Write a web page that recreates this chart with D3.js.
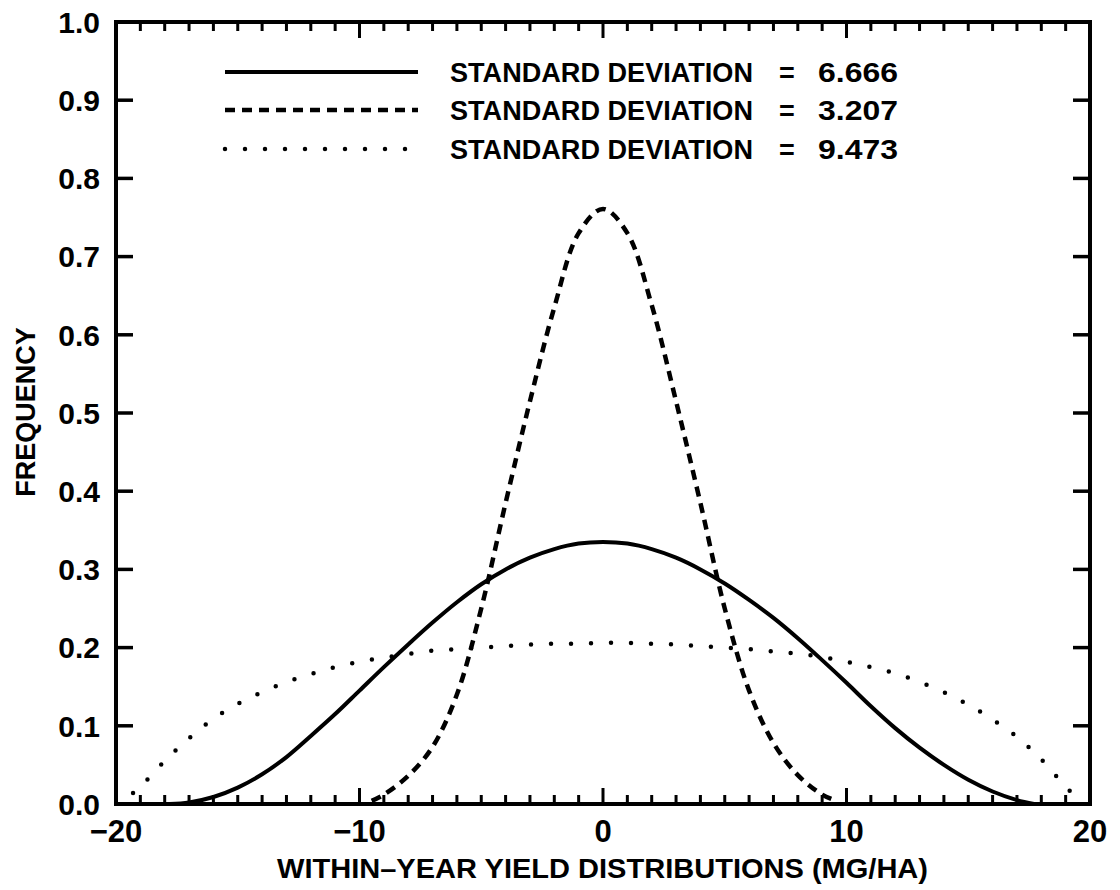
<!DOCTYPE html>
<html>
<head>
<meta charset="utf-8">
<script src="https://cdn.jsdelivr.net/npm/d3@7"></script>
<style>
  body { margin: 0; background: #fff; }
  text { font-family: "Liberation Sans", Arial, sans-serif; font-weight: bold; fill: #000; }
</style>
</head>
<body>
<div id="vis"></div>
<script>
// values (x in MG/HA, y = frequency)
var sd6666X = [-17.8, -17, -16, -15, -14, -13, -12, -11, -10, -9, -8, -7, -6, -5, -4, -3, -2, -1, 0,
               1, 2, 3, 4, 5, 6, 7, 8, 9, 10, 11, 12, 13, 14, 15, 16, 17, 17.7];
var sd6666Y = [0, 0.002, 0.009, 0.021, 0.038, 0.06, 0.087, 0.115, 0.145, 0.175, 0.204, 0.232, 0.258, 0.281, 0.3, 0.315, 0.326, 0.333, 0.335,
               0.333, 0.326, 0.315, 0.3, 0.282, 0.261, 0.238, 0.212, 0.184, 0.155, 0.125, 0.097, 0.072, 0.05, 0.031, 0.016, 0.005, 0];

var sd3207X = [-9.5, -9, -8, -7, -6, -5, -4, -3, -2, -1, 0, 1, 2, 3, 4, 5, 6, 7, 8, 9, 9.5];
var sd3207Y = [0.004, 0.012, 0.036, 0.073, 0.14, 0.25, 0.385, 0.515, 0.635, 0.73, 0.761,
               0.73, 0.638, 0.515, 0.385, 0.25, 0.145, 0.078, 0.037, 0.012, 0.005];

var sd9473X = [-19.3, -19, -18, -17, -16, -15, -14, -13, -12, -11, -10, -9, -8, -7, -6, -5, -4, -3, -2, -1, 0,
               1, 2, 3, 4, 5, 6, 7, 8, 9, 10, 11, 12, 13, 14, 15, 16, 17, 18, 19, 19.2];
var sd9473Y = [0.014, 0.022, 0.055, 0.084, 0.109, 0.128, 0.143, 0.156, 0.166, 0.175, 0.182, 0.187, 0.192, 0.196, 0.198, 0.2, 0.202, 0.204, 0.205, 0.205, 0.206,
               0.206, 0.205, 0.204, 0.202, 0.2, 0.198, 0.195, 0.192, 0.188, 0.182, 0.175, 0.167, 0.156, 0.143, 0.127, 0.108, 0.086, 0.057, 0.022, 0.016];

var legendLabels = ["STANDARD  DEVIATION", "STANDARD  DEVIATION", "STANDARD  DEVIATION"];
var legendValues = ["6.666", "3.207", "9.473"];
var xTickLabels = [-20, -10, 0, 10, 20];
var yTickLabels = [0, 0.1, 0.2, 0.3, 0.4, 0.5, 0.6, 0.7, 0.8, 0.9, 1.0];

// size of the page and the plot box
var width = 1120;
var height = 890;
var margin = { top: 22, left: 116, bottom: 86, right: 30 };

var x = d3.scaleLinear().domain([-20, 20]).range([margin.left, width - margin.right]);
var y = d3.scaleLinear().domain([0, 1]).range([height - margin.bottom, margin.top]);

var svg = d3.select("#vis").append("svg")
  .attr("width", width)
  .attr("height", height);

// line styles per series: solid, dashed, dotted
var styles = [
  { dash: null, width: 4, cap: "butt" },
  { dash: "10,7", width: 4.5, cap: "butt" },
  { dash: "0,20", width: 4.5, cap: "round" }
];

var series = [
  d3.zip(sd6666X, sd6666Y),
  d3.zip(sd3207X, sd3207Y),
  d3.zip(sd9473X, sd9473Y)
];

var line = d3.line()
  .x(function (d) { return x(d[0]); })
  .y(function (d) { return y(d[1]); })
  .curve(d3.curveCatmullRom.alpha(0.5));

svg.selectAll(".curve")
  .data(series)
  .enter()
  .append("path")
  .attr("class", "curve")
  .attr("d", line)
  .attr("fill", "none")
  .attr("stroke", "#000")
  .attr("stroke-width", function (d, i) { return styles[i].width; })
  .attr("stroke-dasharray", function (d, i) { return styles[i].dash; })
  .attr("stroke-linecap", function (d, i) { return styles[i].cap; });

// axes: ticks point inward on all four sides
var minorX = d3.range(-19, 20);
function xTickLen(v) { return v % 10 === 0 ? 16 : 9; }

var axes = svg.append("g");

axes.selectAll(".tb")
  .data(minorX)
  .enter()
  .append("line")
  .attr("x1", function (d) { return x(d); })
  .attr("x2", function (d) { return x(d); })
  .attr("y1", y(0))
  .attr("y2", function (d) { return y(0) - xTickLen(d); })
  .attr("stroke", "#000").attr("stroke-width", 3);

axes.selectAll(".tt")
  .data(minorX)
  .enter()
  .append("line")
  .attr("x1", function (d) { return x(d); })
  .attr("x2", function (d) { return x(d); })
  .attr("y1", y(1))
  .attr("y2", function (d) { return y(1) + xTickLen(d); })
  .attr("stroke", "#000").attr("stroke-width", 3);

var innerY = yTickLabels.slice(1, -1);
axes.selectAll(".tl")
  .data(innerY)
  .enter()
  .append("line")
  .attr("x1", x(-20))
  .attr("x2", x(-20) + 17)
  .attr("y1", function (d) { return y(d); })
  .attr("y2", function (d) { return y(d); })
  .attr("stroke", "#000").attr("stroke-width", 3.5);

axes.selectAll(".tr")
  .data(innerY)
  .enter()
  .append("line")
  .attr("x1", x(20))
  .attr("x2", x(20) - 17)
  .attr("y1", function (d) { return y(d); })
  .attr("y2", function (d) { return y(d); })
  .attr("stroke", "#000").attr("stroke-width", 3.5);

// frame
axes.append("rect")
  .attr("x", x(-20))
  .attr("y", y(1))
  .attr("width", x(20) - x(-20))
  .attr("height", y(0) - y(1))
  .attr("fill", "none")
  .attr("stroke", "#000")
  .attr("stroke-width", 4);

// tick labels
axes.selectAll(".xl")
  .data(xTickLabels)
  .enter()
  .append("text")
  .attr("x", function (d) { return x(d); })
  .attr("y", 842)
  .attr("text-anchor", "middle")
  .style("font-size", "31px")
  .text(function (d) { return d < 0 ? "\u2212" + Math.abs(d) : d; });

axes.selectAll(".yl")
  .data(yTickLabels)
  .enter()
  .append("text")
  .attr("x", x(-20) - 16)
  .attr("y", function (d) { return y(d); })
  .attr("dy", "0.36em")
  .attr("text-anchor", "end")
  .style("font-size", "30px")
  .text(function (d) { return d3.format(".1f")(d); });

// axis titles
svg.append("text")
  .attr("x", 277)
  .attr("y", 878)
  .attr("textLength", 651)
  .attr("lengthAdjust", "spacingAndGlyphs")
  .style("font-size", "27px")
  .text("WITHIN\u2013YEAR YIELD DISTRIBUTIONS (MG/HA)");

svg.append("text")
  .attr("transform", "translate(35,412) rotate(-90)")
  .attr("text-anchor", "middle")
  .style("font-size", "27px")
  .text("FREQUENCY");

// legend
var legendRows = [72, 110, 149];
var legend = svg.selectAll(".legend")
  .data(legendValues)
  .enter()
  .append("g")
  .attr("class", "legend")
  .attr("transform", function (d, i) { return "translate(0," + legendRows[i] + ")"; });

legend.append("line")
  .attr("x1", 225)
  .attr("x2", 418)
  .attr("stroke", "#000")
  .attr("stroke-width", function (d, i) { return styles[i].width; })
  .attr("stroke-dasharray", function (d, i) { return styles[i].dash; })
  .attr("stroke-linecap", function (d, i) { return styles[i].cap; });

legend.append("text")
  .attr("x", 450)
  .attr("y", 10)
  .attr("textLength", 303)
  .attr("lengthAdjust", "spacingAndGlyphs")
  .style("font-size", "27px")
  .text(function (d, i) { return legendLabels[i]; });

legend.append("text")
  .attr("x", 787)
  .attr("y", 10)
  .attr("text-anchor", "middle")
  .style("font-size", "27px")
  .text("=");

legend.append("text")
  .attr("x", 818)
  .attr("y", 10)
  .attr("textLength", 80)
  .attr("lengthAdjust", "spacingAndGlyphs")
  .style("font-size", "27px")
  .text(function (d) { return d; });
</script>
</body>
</html>
